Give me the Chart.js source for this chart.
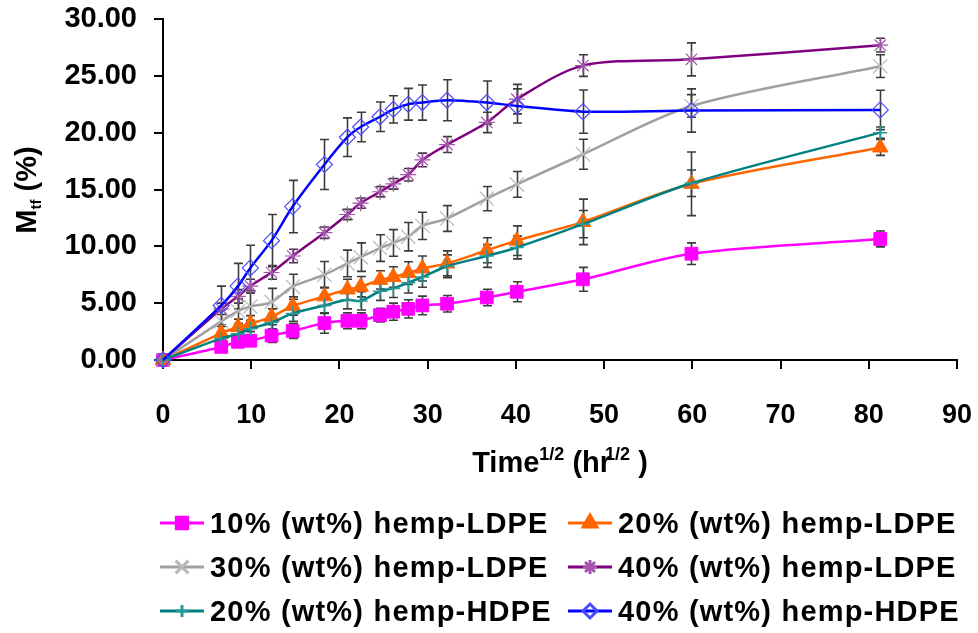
<!DOCTYPE html>
<html>
<head>
<meta charset="utf-8">
<script src="https://cdn.jsdelivr.net/npm/chart.js@4/dist/chart.umd.min.js"></script>
<style>
  html, body { margin: 0; padding: 0; background: #fff; }
  #wrap { position: relative; width: 978px; height: 633px; }
  #chart { position: absolute; left: 0; top: 0; }
  #legend { position: absolute; left: 0; top: 501px; width: 978px;
    font: bold 29px 'Liberation Sans', Arial, sans-serif; letter-spacing: 1.2px; color: #000; }
  .row { position: relative; height: 44px; }
  .item { position: absolute; top: 0; height: 44px; display: flex; align-items: center; white-space: nowrap; }
  .item canvas { margin-right: 6px; }
</style>
</head>
<body>
<div id="wrap">
  <canvas id="chart" width="978" height="633"></canvas>
  <div id="legend"></div>
</div>
<script>
// square root of time (hr^1/2) at each weighing
const timeRoot = [0, 6.6, 8.5, 9.9, 12.3, 14.7, 18.3, 20.9, 22.4, 24.6, 26.1, 27.8, 29.4, 32.2, 36.7, 40.1, 47.6, 59.9, 81.3];

// moisture uptake Mtf (%) and standard deviation per composite
const ldpe10    = [0, 1.15, 1.6, 1.7, 2.15, 2.55, 3.25, 3.45, 3.45, 3.95, 4.25, 4.5, 4.8, 4.95, 5.5, 6.0, 7.1, 9.35, 10.65];
const ldpe10Err = [0, 0.3, 0.45, 0.5, 0.6, 0.65, 0.9, 0.7, 0.7, 0.6, 0.75, 0.8, 0.82, 0.73, 0.73, 0.88, 1.05, 0.95, 0.7];
const ldpe20    = [0, 2.35, 2.9, 3.2, 3.8, 4.75, 5.6, 6.2, 6.45, 7.05, 7.3, 7.65, 8.05, 8.5, 9.65, 10.5, 12.15, 15.5, 18.7];
const ldpe20Err = [0, 0.6, 0.7, 0.7, 0.7, 0.8, 0.8, 0.9, 0.9, 0.8, 0.9, 1.0, 1.1, 1.1, 1.1, 1.3, 2.0, 2.8, 0.7];
const ldpe30    = [0, 3.4, 4.3, 4.7, 5.1, 6.45, 7.5, 8.5, 9.05, 9.85, 10.3, 10.85, 11.8, 12.45, 14.2, 15.45, 18.1, 22.35, 25.85];
const ldpe30Err = [0, 1.0, 1.1, 1.2, 1.2, 1.1, 1.17, 1.17, 1.25, 1.17, 1.17, 1.25, 1.2, 1.13, 1.07, 1.13, 1.32, 1.0, 1.0];
const ldpe40    = [0, 4.5, 5.6, 6.5, 7.7, 9.15, 11.2, 12.8, 13.8, 14.8, 15.5, 16.3, 17.6, 18.95, 20.9, 22.95, 25.9, 26.45, 27.7];
const ldpe40Err = [0, 0.5, 0.6, 0.6, 0.6, 0.6, 0.5, 0.45, 0.45, 0.45, 0.47, 0.55, 0.6, 0.7, 0.9, 1.3, 0.95, 1.45, 0.6];
const hdpe20    = [0, 1.9, 2.3, 2.75, 3.3, 4.1, 4.8, 5.3, 5.2, 6.05, 6.3, 6.8, 7.3, 8.25, 9.15, 9.9, 11.95, 15.55, 20.0];
const hdpe20Err = [0, 0.4, 0.5, 0.6, 0.6, 0.7, 0.7, 0.8, 0.8, 0.8, 0.8, 0.9, 0.9, 1.0, 1.0, 1.0, 1.2, 1.17, 0.5];
const hdpe40    = [0, 4.8, 6.5, 8.1, 10.5, 13.5, 17.2, 19.6, 20.5, 21.4, 22.05, 22.5, 22.65, 22.85, 22.65, 22.35, 21.85, 21.95, 22.0];
const hdpe40Err = [0, 1.7, 2.0, 2.0, 2.3, 2.3, 2.2, 1.7, 1.3, 1.3, 1.2, 1.4, 1.55, 1.8, 1.9, 1.5, 1.9, 1.9, 1.73];

const seriesNames = [
  '10% (wt%) hemp-LDPE', '20% (wt%) hemp-LDPE',
  '30% (wt%) hemp-LDPE', '40% (wt%) hemp-LDPE',
  '20% (wt%) hemp-HDPE', '40% (wt%) hemp-HDPE'
];
const seriesValues = [ldpe10, ldpe20, ldpe30, ldpe40, hdpe20, hdpe40];
const seriesErrors = [ldpe10Err, ldpe20Err, ldpe30Err, ldpe40Err, hdpe20Err, hdpe40Err];

const FONT = "'Liberation Sans', Arial, sans-serif";

const looks = [
  { line: '#FF00FF', point: 'rect',     r: 9,  fill: '#FF00FF',     edge: '#FF00FF', bw: 1 },
  { line: '#FF6600', point: 'triangle', r: 9,  fill: '#FF6600',     edge: '#FF6600', bw: 1 },
  { line: '#A0A0A0', point: 'crossRot', r: 10, fill: 'rgba(0,0,0,0)', edge: '#B8B8B8', bw: 1.2 },
  { line: '#800080', point: 'star',     r: 8,  fill: 'rgba(0,0,0,0)', edge: '#A455AC', bw: 1.2 },
  { line: '#008080', point: 'cross',    r: 7,  fill: 'rgba(0,0,0,0)', edge: '#2A9898', bw: 1.5 },
  { line: '#0000FF', point: 'rectRot',  r: 8,  fill: 'rgba(0,0,0,0)', edge: '#4A4AFF', bw: 1.2 }
];

const datasets = seriesValues.map((vals, k) => ({
  label: seriesNames[k],
  data: vals.map((v, i) => ({ x: timeRoot[i], y: v })),
  errors: seriesErrors[k],
  borderColor: looks[k].line,
  borderWidth: 2.5,
  tension: 0.3,
  pointStyle: looks[k].point,
  pointRadius: looks[k].r,
  pointBackgroundColor: looks[k].fill,
  pointBorderColor: looks[k].edge,
  pointBorderWidth: looks[k].bw,
  order: seriesValues.length - k,
  clip: false
}));

// vertical error bars with caps, drawn under the lines
const errorBars = {
  id: 'errorBars',
  beforeDatasetsDraw(chart) {
    const { ctx, scales: { x, y } } = chart;
    ctx.save();
    ctx.strokeStyle = '#3c3c3c';
    ctx.lineWidth = 1.6;
    chart.data.datasets.forEach(ds => {
      ds.errors.forEach((e, i) => {
        if (!e) return;
        const p = ds.data[i];
        const px = Math.round(x.getPixelForValue(p.x)) + 0.5;
        const top = y.getPixelForValue(p.y + e);
        const bot = y.getPixelForValue(p.y - e);
        ctx.beginPath();
        ctx.moveTo(px, top); ctx.lineTo(px, bot);
        ctx.moveTo(px - 4.5, top); ctx.lineTo(px + 4.5, top);
        ctx.moveTo(px - 4.5, bot); ctx.lineTo(px + 4.5, bot);
        ctx.stroke();
      });
    });
    ctx.restore();
  }
};

// axis titles with sub/superscripts
function runs(ctx, parts, x, y) {
  parts.forEach(p => {
    ctx.font = 'bold ' + p.size + 'px ' + FONT;
    ctx.fillText(p.t, x, y + (p.dy || 0));
    x += ctx.measureText(p.t).width + (p.kern || 0);
  });
}
function runsWidth(ctx, parts) {
  return parts.reduce((w, p) => {
    ctx.font = 'bold ' + p.size + 'px ' + FONT;
    return w + ctx.measureText(p.t).width + (p.kern || 0);
  }, 0);
}
const axisTitles = {
  id: 'axisTitles',
  afterDraw(chart) {
    const { ctx, chartArea } = chart;
    ctx.save();
    ctx.fillStyle = '#000';
    ctx.textBaseline = 'alphabetic';
    ctx.textAlign = 'left';
    const xt = [
      { t: 'Time', size: 29 },
      { t: '1/2', size: 18, dy: -12 },
      { t: ' (hr', size: 29, kern: -6 },
      { t: '1/2', size: 18, dy: -12 },
      { t: ' )', size: 29 }
    ];
    const cx = (chartArea.left + chartArea.right) / 2;
    runs(ctx, xt, cx - runsWidth(ctx, xt) / 2, 472);

    const yt = [
      { t: 'M', size: 29 },
      { t: 'tf', size: 15, dy: 5 },
      { t: ' (%)', size: 29 }
    ];
    ctx.translate(36, 190);
    ctx.rotate(-Math.PI / 2);
    runs(ctx, yt, -runsWidth(ctx, yt) / 2, 0);
    ctx.restore();
  }
};

// fixed axis boxes: the plot frame sits where the tick padding says, not where label overflow pushes it
function noOverflow(s) {
  s.paddingTop = 0; s.paddingBottom = 0; s.paddingLeft = 0; s.paddingRight = 0;
}

new Chart(document.getElementById('chart'), {
  type: 'line',
  data: { datasets },
  options: {
    responsive: false,
    animation: false,
    layout: { padding: { left: 0, right: 21, top: 19, bottom: 0 } },
    plugins: { legend: { display: false }, tooltip: { enabled: false } },
    scales: {
      x: {
        type: 'linear', min: 0, max: 90,
        border: { color: '#000', width: 2 },
        grid: { drawOnChartArea: false, color: '#000', lineWidth: 2, tickLength: 9 },
        ticks: { stepSize: 10, padding: 30, color: '#000', font: { family: FONT, size: 27, weight: 'bold' } },
        afterFit(s) { s.height = 273; noOverflow(s); }
      },
      y: {
        min: 0, max: 30,
        border: { color: '#000', width: 2 },
        grid: { drawOnChartArea: false, color: '#000', lineWidth: 2, tickLength: 9 },
        ticks: { stepSize: 5, padding: 17, color: '#000', font: { family: FONT, size: 29, weight: 'bold' },
                 callback: v => v.toFixed(2) },
        afterFit(s) { s.width = 163; noOverflow(s); }
      }
    }
  },
  plugins: [errorBars, axisTitles]
});

// legend: two columns, line with marker then label
const legend = document.getElementById('legend');
const colLeft = [160, 568];
for (let r = 0; r < 3; r++) {
  const row = document.createElement('div');
  row.className = 'row';
  for (let c = 0; c < 2; c++) {
    const k = r * 2 + c;
    const item = document.createElement('div');
    item.className = 'item';
    item.style.left = colLeft[c] + 'px';
    const cv = document.createElement('canvas');
    cv.width = 44; cv.height = 30;
    const g = cv.getContext('2d');
    g.strokeStyle = looks[k].line; g.lineWidth = 3;
    g.beginPath(); g.moveTo(0, 15); g.lineTo(44, 15); g.stroke();
    g.fillStyle = looks[k].fill; g.strokeStyle = looks[k].edge;
    Chart.helpers.drawPoint(g, { pointStyle: looks[k].point, radius: looks[k].r - 1, borderWidth: looks[k].bw, rotation: 0 }, 22, 15);
    item.appendChild(cv);
    const span = document.createElement('span');
    span.textContent = seriesNames[k];
    item.appendChild(span);
    row.appendChild(item);
  }
  legend.appendChild(row);
}
</script>
</body>
</html>
